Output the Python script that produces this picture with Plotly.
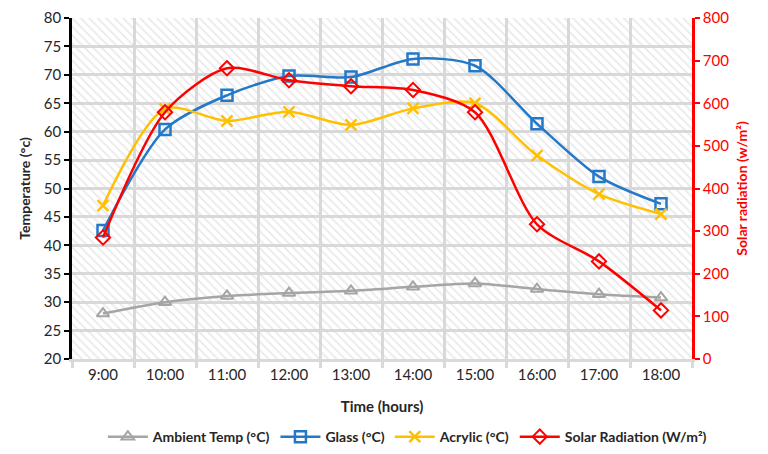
import plotly.graph_objects as go

# ─── Data ────────────────────────────────────────────────────────────
hours = ["9:00", "10:00", "11:00", "12:00", "13:00", "14:00", "15:00", "16:00", "17:00", "18:00"]
ambient_temp = [28.0, 30.0, 31.1, 31.6, 32.0, 32.7, 33.3, 32.3, 31.4, 30.8]
glass_temp = [42.6, 60.4, 66.4, 69.8, 69.6, 72.8, 71.6, 61.4, 52.1, 47.3]
acrylic_temp = [47.0, 64.0, 61.9, 63.5, 61.2, 64.1, 65.0, 55.8, 49.0, 45.5]
solar_rad = [285, 579, 682, 654, 640, 631, 579, 316, 229, 114]

FONT = "Lato, 'Open Sans', sans-serif"
GRID = "#d9d9d9"

fig = go.Figure()

# hatched plot background (drawn as a full-height bar per category)
fig.add_trace(
    go.Bar(
        x=hours,
        y=[60] * len(hours),
        base=20,
        width=1,
        marker=dict(
            color="rgba(0,0,0,0)",
            line=dict(width=0),
            pattern=dict(shape="\\", fgcolor="#d4d4d4", bgcolor="rgba(0,0,0,0)",
                         size=6, solidity=0.3),
        ),
        hoverinfo="skip",
        showlegend=False,
    )
)

fig.add_trace(
    go.Scatter(
        x=hours, y=ambient_temp, name="Ambient Temp (°C)",
        mode="lines+markers",
        line=dict(color="#a5a5a5", width=2.5, shape="spline", smoothing=0.8),
        marker=dict(symbol="triangle-up-open", size=11, color="#a5a5a5", line=dict(width=2)),
    )
)
fig.add_trace(
    go.Scatter(
        x=hours, y=glass_temp, name="Glass (°C)",
        mode="lines+markers",
        line=dict(color="#2478c8", width=2.5, shape="spline", smoothing=0.8),
        marker=dict(symbol="square-open", size=11, color="#2478c8", line=dict(width=2.5)),
    )
)
fig.add_trace(
    go.Scatter(
        x=hours, y=acrylic_temp, name="Acrylic (°C)",
        mode="lines+markers",
        line=dict(color="#ffc000", width=2.5, shape="spline", smoothing=0.8),
        marker=dict(symbol="x-thin-open", size=11, color="#ffc000", line=dict(width=2.5, color="#ffc000")),
    )
)
fig.add_trace(
    go.Scatter(
        x=hours, y=solar_rad, name="Solar Radiation (W/m²)",
        mode="lines+markers", yaxis="y2",
        line=dict(color="#ff0000", width=2.5, shape="spline", smoothing=0.8),
        marker=dict(symbol="diamond-open", size=11, color="#ff0000", line=dict(width=2)),
    )
)

fig.update_layout(
    width=768,
    height=454,
    margin=dict(l=64, r=84, t=10, b=103),
    paper_bgcolor="white",
    plot_bgcolor="white",
    font=dict(family=FONT, size=15, color="#262626"),
    bargap=0,
    showlegend=True,
    legend=dict(
        orientation="h",
        xref="container", yref="container",
        x=0.52, xanchor="center",
        y=0.055, yanchor="middle",
        font=dict(size=14, color="#262626", weight="bold"),
        itemwidth=40,
        traceorder="normal",
    ),
    xaxis=dict(
        type="category",
        automargin=False,
        tickson="boundaries",
        showgrid=True, gridcolor=GRID, gridwidth=2.5,
        showline=True, linecolor=GRID, linewidth=2.5,
        ticks="outside", ticklen=6, tickcolor=GRID, tickwidth=2.5,
        tickfont=dict(size=15),
        title=dict(text="<b>Time (hours)</b>", font=dict(size=15), standoff=20),
        range=[-0.5, 9.5],
    ),
    yaxis=dict(
        automargin=False,
        range=[20, 80], dtick=5,
        showgrid=True, gridcolor=GRID, gridwidth=2.5,
        showline=True, linecolor="black", linewidth=2.5,
        ticks="outside", ticklen=5, tickcolor="black", tickwidth=2,
        tickfont=dict(size=15),
        title=dict(text="<b>Temperature (°c)</b>", font=dict(size=14), standoff=10),
        zeroline=False,
    ),
    yaxis2=dict(
        automargin=False,
        overlaying="y", side="right",
        range=[0, 800], dtick=100,
        showgrid=False,
        showline=True, linecolor="#ff0000", linewidth=2.5,
        ticks="outside", ticklen=5, tickcolor="#ff0000", tickwidth=2,
        tickfont=dict(size=15, color="#ff0000"),
        title=dict(text="<b>Solar radiation (w/m²)</b>", font=dict(size=14, color="#ff0000"), standoff=10),
        zeroline=False,
    ),
)

fig.write_html("out.html")
